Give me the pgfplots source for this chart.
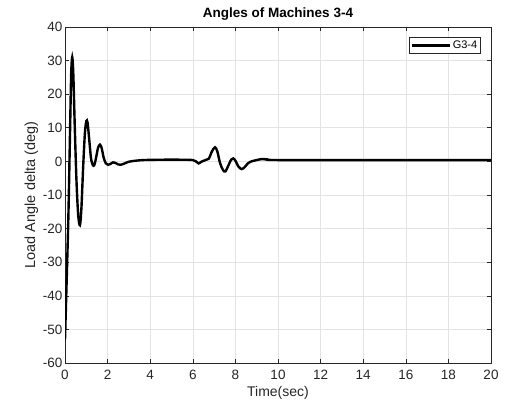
\documentclass[border=0pt]{standalone}
\usepackage{pgfplots}
\pgfplotsset{compat=1.18}
\usepackage{fontspec}
\setmainfont{Liberation Sans}
\definecolor{axc}{HTML}{262626}
\definecolor{gridc}{HTML}{E3E3E3}
\begin{document}
\begin{tikzpicture}[x=1pt,y=1pt]
\useasboundingbox (0,0) rectangle (505,407);
\begin{axis}[
  at={(65pt,44pt)}, anchor=south west,
  scale only axis, width=426pt, height=336pt,
  xmin=0, xmax=20, ymin=-60, ymax=40,
  xtick={0,2,...,20}, ytick={-60,-50,...,40},
  grid=major, major grid style={gridc, line width=0.6pt},
  axis line style={axc, line width=0.6pt},
  tick style={axc, line width=0.6pt},
  tick align=inside, major tick length=4pt,
  xtick pos=both, ytick pos=both,
  ticklabel style={font=\fontsize{13.5}{15}\selectfont, text=axc},
  xticklabel style={yshift=-4pt},
  yticklabel style={xshift=1pt},
  /pgf/number format/assume math mode=true,
  xlabel={Time(sec)}, ylabel={Load Angle delta (deg)},
  xlabel style={font=\fontsize{14}{16}\selectfont, text=axc, yshift=1pt},
  ylabel style={font=\fontsize{14.5}{16}\selectfont, text=axc, yshift=-2pt},
  title={\textbf{Angles of Machines 3-4}},
  title style={font=\fontsize{13.5}{15}\selectfont, yshift=-3pt},
  legend style={at={(1,1)}, anchor=north east, xshift=-10pt, yshift=-10pt,
    draw=axc, line width=0.6pt, font=\fontsize{11}{13}\selectfont, inner sep=1.5pt,
    legend cell align=left},
  legend image code/.code={\draw[#1] (0pt,0pt) -- (38pt,0pt);},
]
\addplot[black, line width=2.4pt, smooth, tension=0.5] coordinates {
(0,-53) (0.08,-35) (0.16,-16) (0.24,10) (0.29,26) (0.34,31) (0.39,26)
(0.46,10) (0.54,-6) (0.62,-16) (0.70,-19) (0.77,-14) (0.85,-2) (0.93,8)
(1.00,12) (1.06,11.5) (1.13,7) (1.22,1) (1.30,-1) (1.37,-1.2) (1.45,0.8)
(1.55,4) (1.64,5) (1.72,4) (1.82,1) (1.92,-0.6) (2.02,-1) (2.12,-0.8)
(2.25,-0.3) (2.35,-0.4) (2.5,-0.9) (2.62,-1) (2.8,-0.6) (3.0,-0.1)
(3.3,0.2) (3.7,0.4) (4.5,0.5) (5.5,0.5) (6.0,0.4) (6.15,0) (6.27,-0.6)
(6.4,-0.1) (6.6,0.4) (6.75,0.8) (6.9,3) (7.04,4.2) (7.15,3) (7.28,-0.5)
(7.42,-2.6) (7.53,-3) (7.65,-1.5) (7.8,0.5) (7.9,0.9) (8.0,0.2)
(8.15,-1.6) (8.3,-2.3) (8.45,-1.6) (8.6,-0.5) (8.8,0.1) (9.0,0.4)
(9.25,0.7) (9.5,0.6) (10.0,0.4) (15,0.4) (20,0.4)
};
\addlegendentry{G3-4}
\end{axis}
\end{tikzpicture}
\end{document}
